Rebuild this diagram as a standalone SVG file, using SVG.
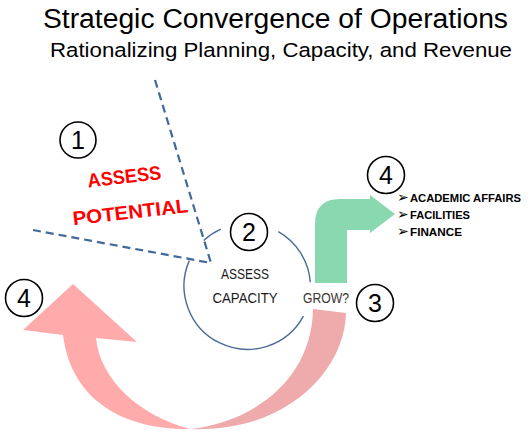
<svg xmlns="http://www.w3.org/2000/svg" width="532" height="434" viewBox="0 0 532 434">
<style>
.t{font-family:"Liberation Sans",Arial,sans-serif;fill:#000}
.num{font-family:"Liberation Sans",Arial,sans-serif;font-size:25px;fill:#000;text-anchor:middle}
.nc{fill:#fff;stroke:#000;stroke-width:1.6}
.dash{fill:none;stroke:#41699a;stroke-width:2.2;stroke-dasharray:8 5}
.arc{fill:none;stroke:#4a6b96;stroke-width:1.4}
.lbl{font-family:"Liberation Sans",Arial,sans-serif;font-size:14.5px;fill:#1a1a1a;text-anchor:middle}
.red{font-family:"Liberation Sans",Arial,sans-serif;font-weight:bold;font-size:19.5px;fill:#ff0000;text-anchor:middle}
.bl{font-family:"Liberation Sans",Arial,sans-serif;font-weight:bold;font-size:11.5px;fill:#000}
.bul{font-family:"DejaVu Sans",sans-serif;font-size:14px;fill:#000}
</style>
<rect width="532" height="434" fill="#fff"/>
<g id="title">
<text class="t" x="43" y="28" font-size="27" textLength="465" lengthAdjust="spacingAndGlyphs">Strategic Convergence of Operations</text>
<text class="t" x="50" y="57" font-size="20.5" textLength="462" lengthAdjust="spacingAndGlyphs">Rationalizing Planning, Capacity, and Revenue</text>
</g>
<g id="connectors">
<path class="dash" d="M155,80 L211,263"/>
<path class="dash" d="M33,230 L211,263"/>
<path class="arc" d="M278.3,231.7 A63.5,63.5 0 0 1 310.3,282.2"/>
<path class="arc" d="M303.4,316.1 A63.5,63.5 0 0 1 189.3,260.6"/>
<path class="arc" d="M203.7,240.6 A63.5,63.5 0 0 1 220.8,229.2"/>
<path id="green-arrow" fill="#8ad8b0" d="M315,283 L315,224 Q315,199 340,199 L370,199 L370,195 L395,214 L370,233 L370,230 L347,230 L347,283 Z"/>
<path id="pink-arrow-back" fill="#efabab" d="M313,309 L346,313 C345,370 287,433 190,429 C255,422 312,378 313,309 Z"/>
<path id="pink-arrow-front" fill="#ffabab" d="M190,429 C130,430 72,405 63,335 L23,330 L73,284 L137,342 L96,338 C100,380 140,416 190,429 Z"/>
</g>
<g id="node-1">
<circle class="nc" cx="78" cy="140" r="18"/>
<text class="num" x="78" y="149">1</text>
</g>
<g id="node-assess-potential" transform="rotate(-6.5 128 200)">
<text class="red" x="127" y="183" textLength="74" lengthAdjust="spacingAndGlyphs">ASSESS</text>
<text class="red" x="129" y="219" textLength="116" lengthAdjust="spacingAndGlyphs">POTENTIAL</text>
</g>
<g id="node-2">
<circle class="nc" cx="249" cy="232" r="18.5"/>
<text class="num" x="249" y="241">2</text>
</g>
<g id="node-assess-capacity">
<text class="lbl" x="245" y="279" textLength="48" lengthAdjust="spacingAndGlyphs">ASSESS</text>
<text class="lbl" x="245" y="303" textLength="65" lengthAdjust="spacingAndGlyphs">CAPACITY</text>
</g>
<g id="node-grow">
<text class="lbl" x="326" y="303" textLength="46" lengthAdjust="spacingAndGlyphs" style="fill:#3b3632">GROW?</text>
</g>
<g id="node-3">
<circle class="nc" cx="375" cy="303" r="18.5"/>
<text class="num" x="375" y="312">3</text>
</g>
<g id="node-4-top">
<circle class="nc" cx="386" cy="175" r="18.5"/>
<text class="num" x="386" y="184">4</text>
</g>
<g id="node-list">
<text class="bul" x="397" y="202">➢</text>
<text class="bl" x="410" y="202" textLength="111" lengthAdjust="spacingAndGlyphs">ACADEMIC AFFAIRS</text>
<text class="bul" x="397" y="219">➢</text>
<text class="bl" x="410" y="219" textLength="60" lengthAdjust="spacingAndGlyphs">FACILITIES</text>
<text class="bul" x="397" y="236">➢</text>
<text class="bl" x="410" y="236" textLength="52" lengthAdjust="spacingAndGlyphs">FINANCE</text>
</g>
<g id="node-4-left">
<circle class="nc" cx="24" cy="298" r="18.5"/>
<text class="num" x="24" y="307">4</text>
</g>
</svg>
